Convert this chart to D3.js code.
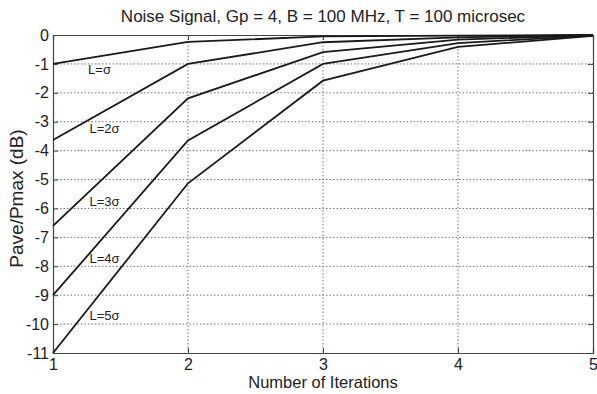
<!DOCTYPE html>
<meta charset="utf-8">
<script src="https://d3js.org/d3.v7.min.js"></script>
<style>
body { margin: 0; background: #fff; }
text { font-family: "Liberation Sans", Arial, sans-serif; fill: #222; }
</style>
<body>
<script>
// chart values
var iterations = [1, 2, 3, 4, 5];
var sigma1 = [-1.0, -0.24, -0.05, -0.02, 0];
var sigma2 = [-3.63, -1.0, -0.25, -0.08, 0];
var sigma3 = [-6.6, -2.19, -0.59, -0.16, -0.01];
var sigma4 = [-9.0, -3.65, -1.0, -0.28, -0.02];
var sigma5 = [-11.0, -5.13, -1.58, -0.41, -0.03];
var seriesNames = ["L=σ", "L=2σ", "L=3σ", "L=4σ", "L=5σ"];
// label anchor points (iteration, dB)
var labelX = [1.26, 1.27, 1.27, 1.27, 1.27];
var labelY = [-1.35, -3.4, -5.9, -7.9, -9.85];
var xTicks = [1, 2, 3, 4, 5];
var yTicks = [0, -1, -2, -3, -4, -5, -6, -7, -8, -9, -10, -11];

var allSeries = [sigma1, sigma2, sigma3, sigma4, sigma5];

var W = 597, H = 394;
var margin = {top: 35, right: 4, bottom: 41, left: 53};
var width = W - margin.left - margin.right,
    height = H - margin.top - margin.bottom;

var svg = d3.select("body").append("svg")
  .attr("width", W).attr("height", H);

var g = svg.append("g")
  .attr("transform", "translate(" + margin.left + "," + margin.top + ")");

var x = d3.scaleLinear().domain([1, 5]).range([0, width]);
var y = d3.scaleLinear().domain([-11, 0]).range([height, 0]);

// grid
g.append("g").selectAll("line").data(xTicks.slice(1, -1)).enter().append("line")
  .attr("x1", d => x(d)).attr("x2", d => x(d))
  .attr("y1", 0).attr("y2", height)
  .attr("stroke", "#777").attr("stroke-width", 1).attr("stroke-dasharray", "1.5,2");
g.append("g").selectAll("line").data(yTicks.slice(1, -1)).enter().append("line")
  .attr("x1", 0).attr("x2", width)
  .attr("y1", d => y(d)).attr("y2", d => y(d))
  .attr("stroke", "#777").attr("stroke-width", 1).attr("stroke-dasharray", "1.5,2");

// axes (ticks point inward)
var xAxis = g.append("g").attr("transform", "translate(0," + height + ")")
  .call(d3.axisBottom(x).tickValues(xTicks).tickSize(-5).tickPadding(6).tickFormat(d3.format("d")));
var yAxis = g.append("g")
  .call(d3.axisLeft(y).tickValues(yTicks).tickSize(-5).tickPadding(4).tickFormat(d => d === 0 ? "0" : "-" + Math.abs(d)));
g.append("g").attr("transform", "translate(0,0)")
  .call(d3.axisTop(x).tickValues(xTicks).tickSize(-5).tickFormat(""));
g.append("g").attr("transform", "translate(" + width + ",0)")
  .call(d3.axisRight(y).tickValues(yTicks).tickSize(-5).tickFormat(""));

g.selectAll(".domain").attr("stroke", "#444").attr("stroke-width", 1.2);
g.selectAll(".tick line").attr("stroke", "#444");
g.selectAll(".tick text").style("font-size", "16px").attr("fill", "#222");

// lines
var line = d3.line().x((d, i) => x(iterations[i])).y(d => y(d));
g.selectAll(".series").data(allSeries).enter().append("path")
  .attr("class", "series")
  .attr("d", d => line(d))
  .attr("fill", "none").attr("stroke", "#1a1a1a").attr("stroke-width", 1.8);

// series labels
g.selectAll(".lbl").data(seriesNames).enter().append("text")
  .attr("class", "lbl")
  .attr("x", (d, i) => x(labelX[i]))
  .attr("y", (d, i) => y(labelY[i]))
  .style("font-size", "13px")
  .text(d => d);

// title and axis labels
svg.append("text")
  .attr("x", margin.left + width / 2).attr("y", 22)
  .attr("text-anchor", "middle").style("font-size", "17px")
  .text("Noise Signal, Gp = 4, B = 100 MHz, T = 100 microsec");
svg.append("text")
  .attr("x", margin.left + width / 2).attr("y", 388)
  .attr("text-anchor", "middle").style("font-size", "16.5px")
  .text("Number of Iterations");
svg.append("text")
  .attr("transform", "translate(22.5,198.5) rotate(-90)")
  .attr("text-anchor", "middle").style("font-size", "19px")
  .text("Pave/Pmax (dB)");
</script>
</body>
